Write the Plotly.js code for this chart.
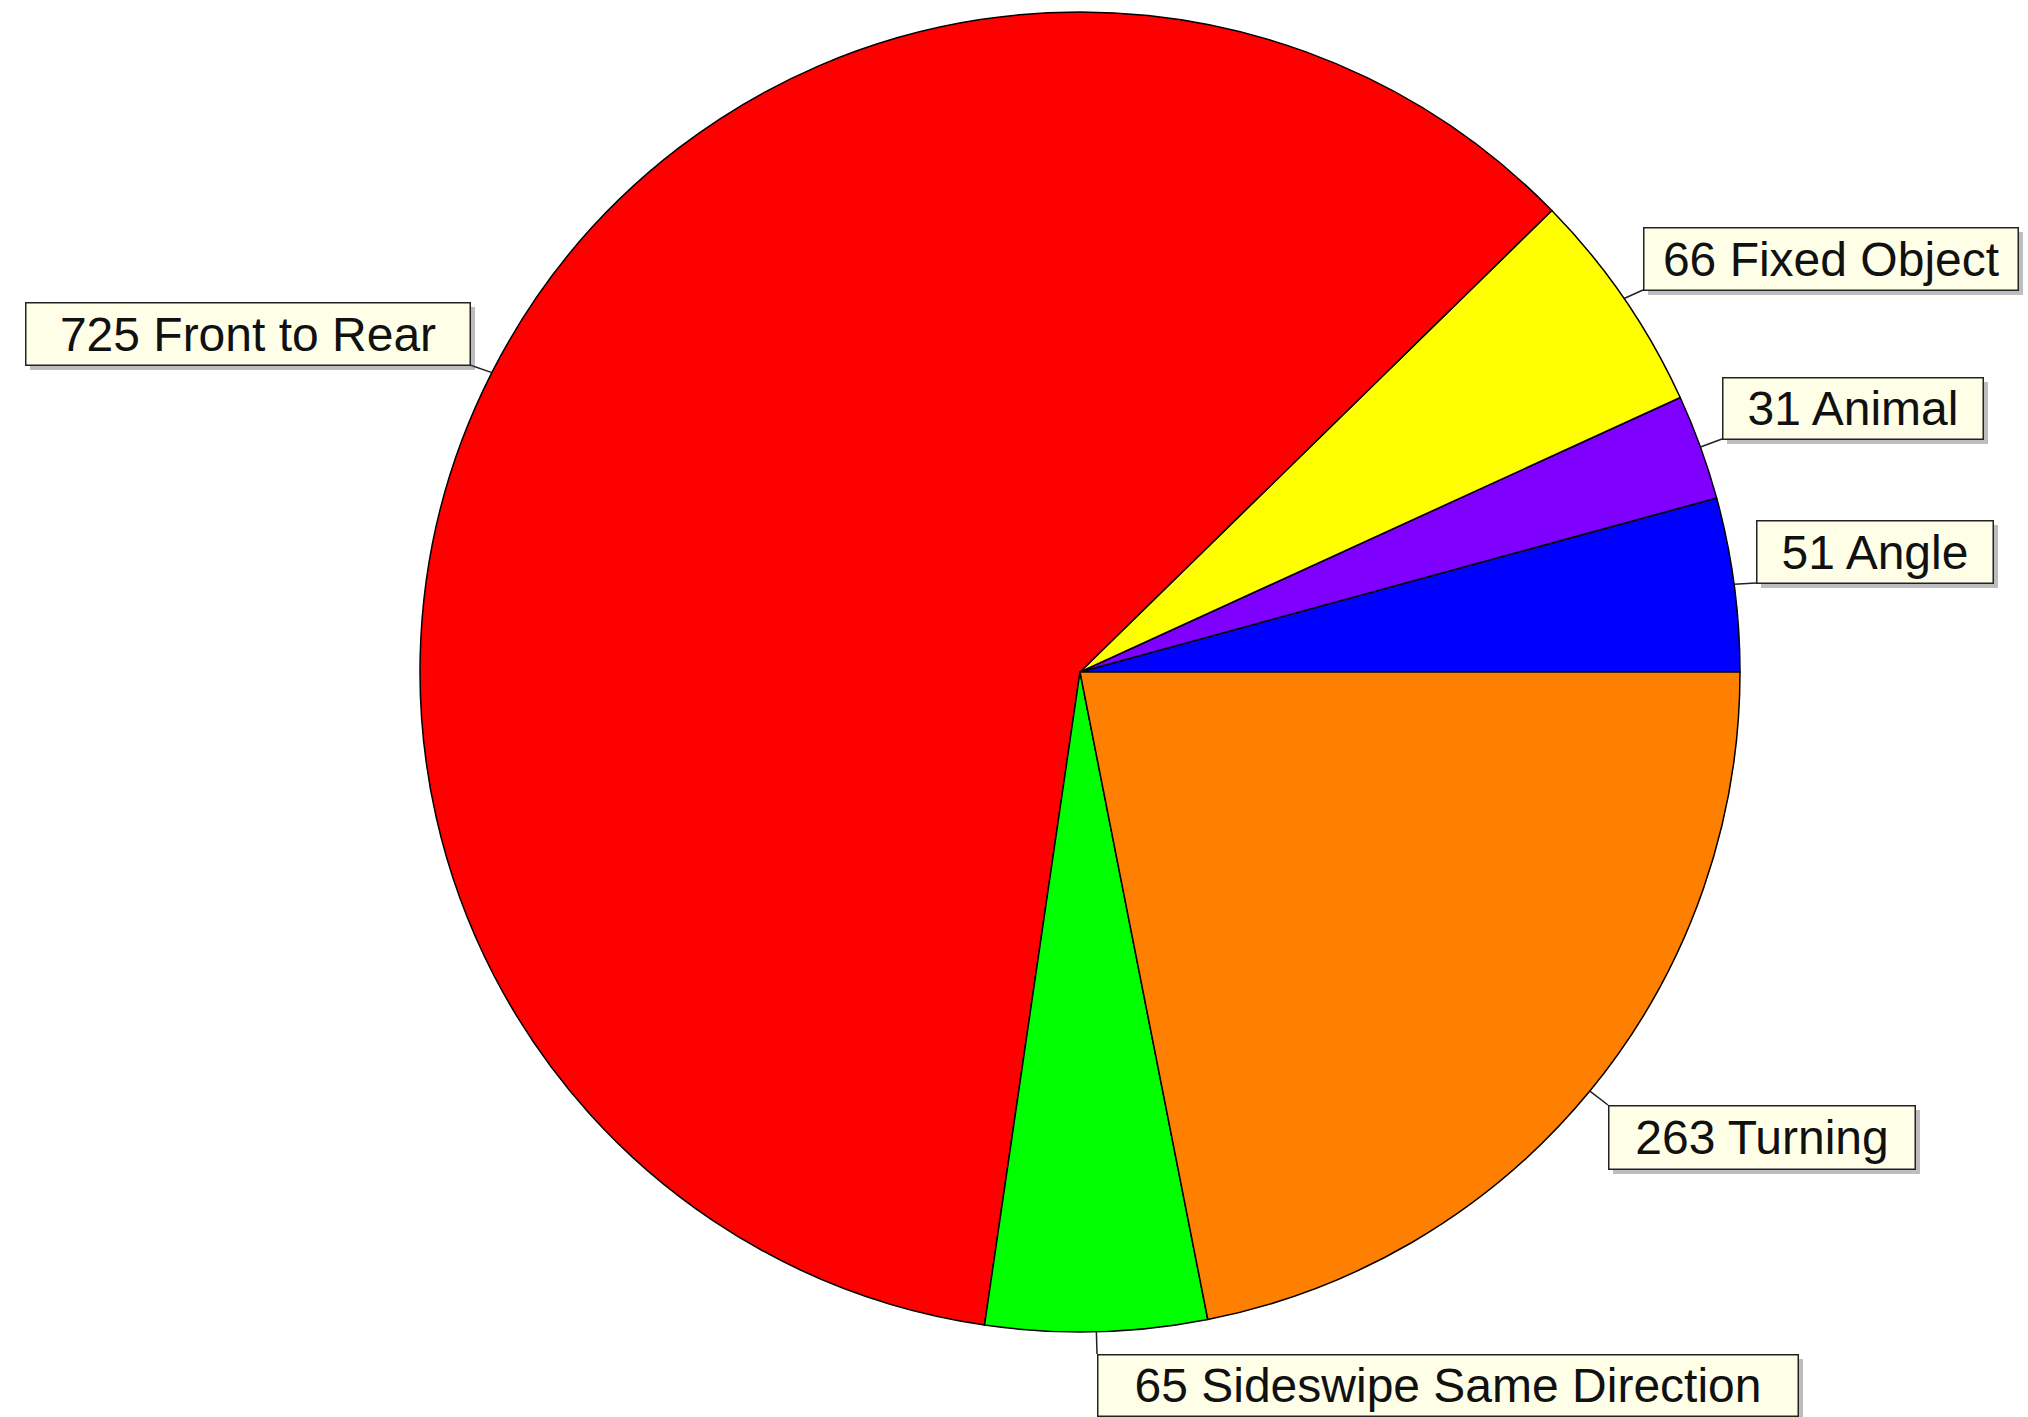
<!DOCTYPE html>
<html>
<head>
<meta charset="utf-8">
<script src="https://cdn.plot.ly/plotly-3.0.1.min.js"></script>
<style>html,body{margin:0;padding:0;background:#fff;}#chart{width:2028px;height:1417px;}</style>
</head>
<body>
<div id="chart"></div>
<script>
// Data (counter-clockwise from 3 o'clock)
const categories = ["Angle", "Animal", "Fixed Object", "Front to Rear", "Sideswipe Same Direction", "Turning"];
const counts = [51, 31, 66, 725, 65, 263];
const sliceColors = ["#0000FF", "#8000FF", "#FFFF00", "#FF0000", "#00FF00", "#FF8000"];

// Label box placement in pixels (layout only): [left, top, right, bottom]
const labelBoxes = [
  [1756, 520, 1993, 583],
  [1722, 377, 1983, 439],
  [1643, 227, 2018, 290],
  [25, 302, 470, 365],
  [1097, 1354, 1798, 1416],
  [1608, 1105, 1915, 1169]
];

const W = 2028, H = 1417;
const cx = 1080, cy = 672, R = 660;
const px2x = p => p / W;
const px2y = p => 1 - p / H;

const total = counts.reduce((a, b) => a + b, 0);
const annotations = [];
const shapes = [];
let cum = 0;
counts.forEach((v, i) => {
  const mid = (cum + v / 2) / total * 2 * Math.PI;
  cum += v;
  const ex = cx + R * Math.cos(mid);
  const ey = cy - R * Math.sin(mid);
  const [l, t, r, b] = labelBoxes[i];
  const corners = [[l, t], [r, t], [l, b], [r, b]];
  let best = corners[0], bd = Infinity;
  corners.forEach(c => { const d = Math.hypot(c[0] - ex, c[1] - ey); if (d < bd) { bd = d; best = c; } });
  shapes.push({type: 'line', xref: 'paper', yref: 'paper', x0: px2x(ex), y0: px2y(ey), x1: px2x(best[0]), y1: px2y(best[1]),
    line: {color: '#222', width: 1.5}, layer: 'above'});
  shapes.push({type: 'rect', xref: 'paper', yref: 'paper', x0: px2x(l + 5), x1: px2x(r + 5), y0: px2y(t + 5), y1: px2y(b + 5),
    fillcolor: 'rgba(90,90,100,0.4)', line: {width: 0}, layer: 'above'});
  annotations.push({
    xref: 'paper', yref: 'paper', x: px2x(l), y: px2y(t), xanchor: 'left', yanchor: 'top',
    showarrow: false, text: counts[i] + ' ' + categories[i],
    width: r - l - 2, height: b - t - 2, borderpad: 0, align: 'center', valign: 'middle',
    bgcolor: '#FFFFE8', bordercolor: '#222', borderwidth: 1.5,
    font: {family: 'Arial, "Liberation Sans", sans-serif', size: 48, color: '#111'}
  });
});

const trace = {
  type: 'pie',
  labels: categories,
  values: counts,
  sort: false,
  direction: 'counterclockwise',
  // Plotly's counterclockwise start is offset by the first slice; start first slice at 3 o'clock
  rotation: 90 - counts[0] / total * 360,
  marker: {colors: sliceColors, line: {color: '#000', width: 1.5}},
  textinfo: 'none',
  hoverinfo: 'skip',
  showlegend: false,
  domain: {x: [(cx - R) / W, (cx + R) / W], y: [(H - cy - R) / H, (H - cy + R) / H]}
};

const layout = {
  width: W, height: H,
  margin: {l: 0, r: 0, t: 0, b: 0},
  paper_bgcolor: '#fff', plot_bgcolor: '#fff',
  showlegend: false,
  annotations: annotations,
  shapes: shapes
};

Plotly.newPlot('chart', [trace], layout, {displayModeBar: false, staticPlot: true});
</script>
</body>
</html>
